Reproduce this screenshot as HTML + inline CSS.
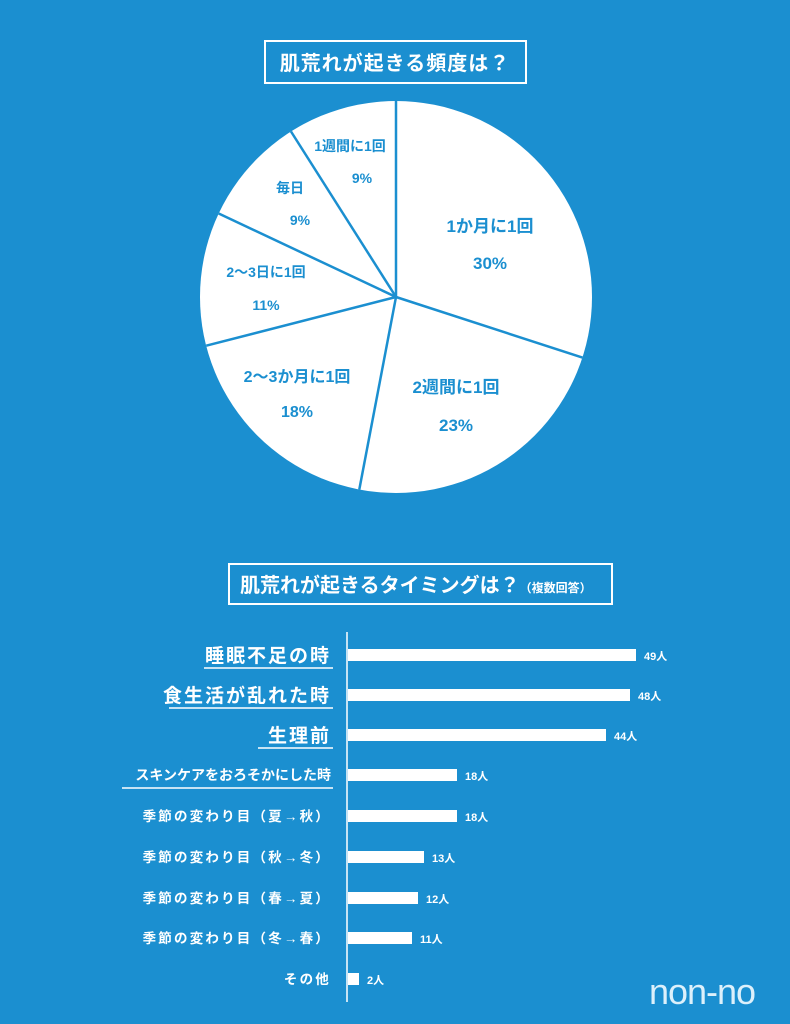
<!DOCTYPE html>
<html><head><meta charset="utf-8"><style>
html,body{margin:0;padding:0;background:#1b8fd0;}
svg{display:block;}
text{font-family:"Liberation Sans","Noto Sans CJK JP",sans-serif;}
</style></head><body>
<svg width="790" height="1024" viewBox="0 0 790 1024" xmlns="http://www.w3.org/2000/svg">
<rect width="790" height="1024" fill="#1b8fd0"/>
<rect x="265" y="41" width="261" height="42" fill="none" stroke="#fff" stroke-width="2"/>
<text x="395" y="70" text-anchor="middle" fill="#fff" font-size="20" font-weight="bold" letter-spacing="1">肌荒れが起きる頻度は？</text>
<circle cx="396" cy="297" r="196" fill="#fff"/>
<g stroke="#1b8fd0" stroke-width="2.5">
<line x1="396" y1="297" x2="396" y2="101"/>
<line x1="396" y1="297" x2="582.4" y2="357.6"/>
<line x1="396" y1="297" x2="359.3" y2="489.5"/>
<line x1="396" y1="297" x2="206.2" y2="345.7"/>
<line x1="396" y1="297" x2="218.7" y2="213.5"/>
<line x1="396" y1="297" x2="291" y2="131.5"/>
</g>
<g fill="#1b8fd0" text-anchor="middle" font-weight="bold">
<text x="490" y="232" font-size="17">1か月に1回</text>
<text x="490" y="269" font-size="17">30%</text>
<text x="456" y="393" font-size="17">2週間に1回</text>
<text x="456" y="431" font-size="17">23%</text>
<text x="297" y="382" font-size="16">2〜3か月に1回</text>
<text x="297" y="417" font-size="16">18%</text>
<text x="266" y="277" font-size="14">2〜3日に1回</text>
<text x="266" y="310" font-size="14">11%</text>
<text x="290" y="193" font-size="14">毎日</text>
<text x="300" y="225" font-size="14">9%</text>
<text x="350" y="151" font-size="14">1週間に1回</text>
<text x="362" y="183" font-size="14">9%</text>
</g>
<rect x="229" y="564" width="383" height="40" fill="none" stroke="#fff" stroke-width="2"/>
<text x="240" y="592" fill="#fff" font-size="20" font-weight="bold">肌荒れが起きるタイミングは？<tspan font-size="12">（複数回答）</tspan></text>
<line x1="347" y1="632" x2="347" y2="1002" stroke="#fff" stroke-width="1.5"/>
<g fill="#fff">
<rect x="348" y="649" width="288" height="12"/>
<rect x="348" y="689" width="282" height="12"/>
<rect x="348" y="729" width="258" height="12"/>
<rect x="348" y="769" width="109" height="12"/>
<rect x="348" y="810" width="109" height="12"/>
<rect x="348" y="851" width="76" height="12"/>
<rect x="348" y="892" width="70" height="12"/>
<rect x="348" y="932" width="64" height="12"/>
<rect x="348" y="973" width="11" height="12"/>
</g>
<g fill="#fff" font-size="11" font-weight="bold">
<text x="644" y="660">49人</text>
<text x="638" y="700">48人</text>
<text x="614" y="740">44人</text>
<text x="465" y="780">18人</text>
<text x="465" y="821">18人</text>
<text x="432" y="862">13人</text>
<text x="426" y="903">12人</text>
<text x="420" y="943">11人</text>
<text x="367" y="984">2人</text>
</g>
<g fill="#fff" font-weight="bold" text-anchor="end">
<text x="331" y="662" font-size="19" letter-spacing="2">睡眠不足の時</text>
<text x="331" y="702" font-size="19" letter-spacing="2">食生活が乱れた時</text>
<text x="331" y="742" font-size="19" letter-spacing="2">生理前</text>
<text x="331" y="780" font-size="14">スキンケアをおろそかにした時</text>
<text x="331" y="821" font-size="13.5" letter-spacing="2.2">季節の変わり目（夏→秋）</text>
<text x="331" y="862" font-size="13.5" letter-spacing="2.2">季節の変わり目（秋→冬）</text>
<text x="331" y="903" font-size="13.5" letter-spacing="2.2">季節の変わり目（春→夏）</text>
<text x="331" y="943" font-size="13.5" letter-spacing="2.2">季節の変わり目（冬→春）</text>
<text x="331" y="984" font-size="13.5" letter-spacing="2.2">その他</text>
</g>
<g stroke="#fff" stroke-width="1.5">
<line x1="204" y1="668" x2="333" y2="668"/>
<line x1="169" y1="708" x2="333" y2="708"/>
<line x1="258" y1="748" x2="333" y2="748"/>
<line x1="122" y1="788" x2="333" y2="788"/>
</g>
<text x="702" y="1004" text-anchor="middle" fill="#dcf0fb" font-size="36" letter-spacing="-1">non-no</text>
</svg>
</body></html>
